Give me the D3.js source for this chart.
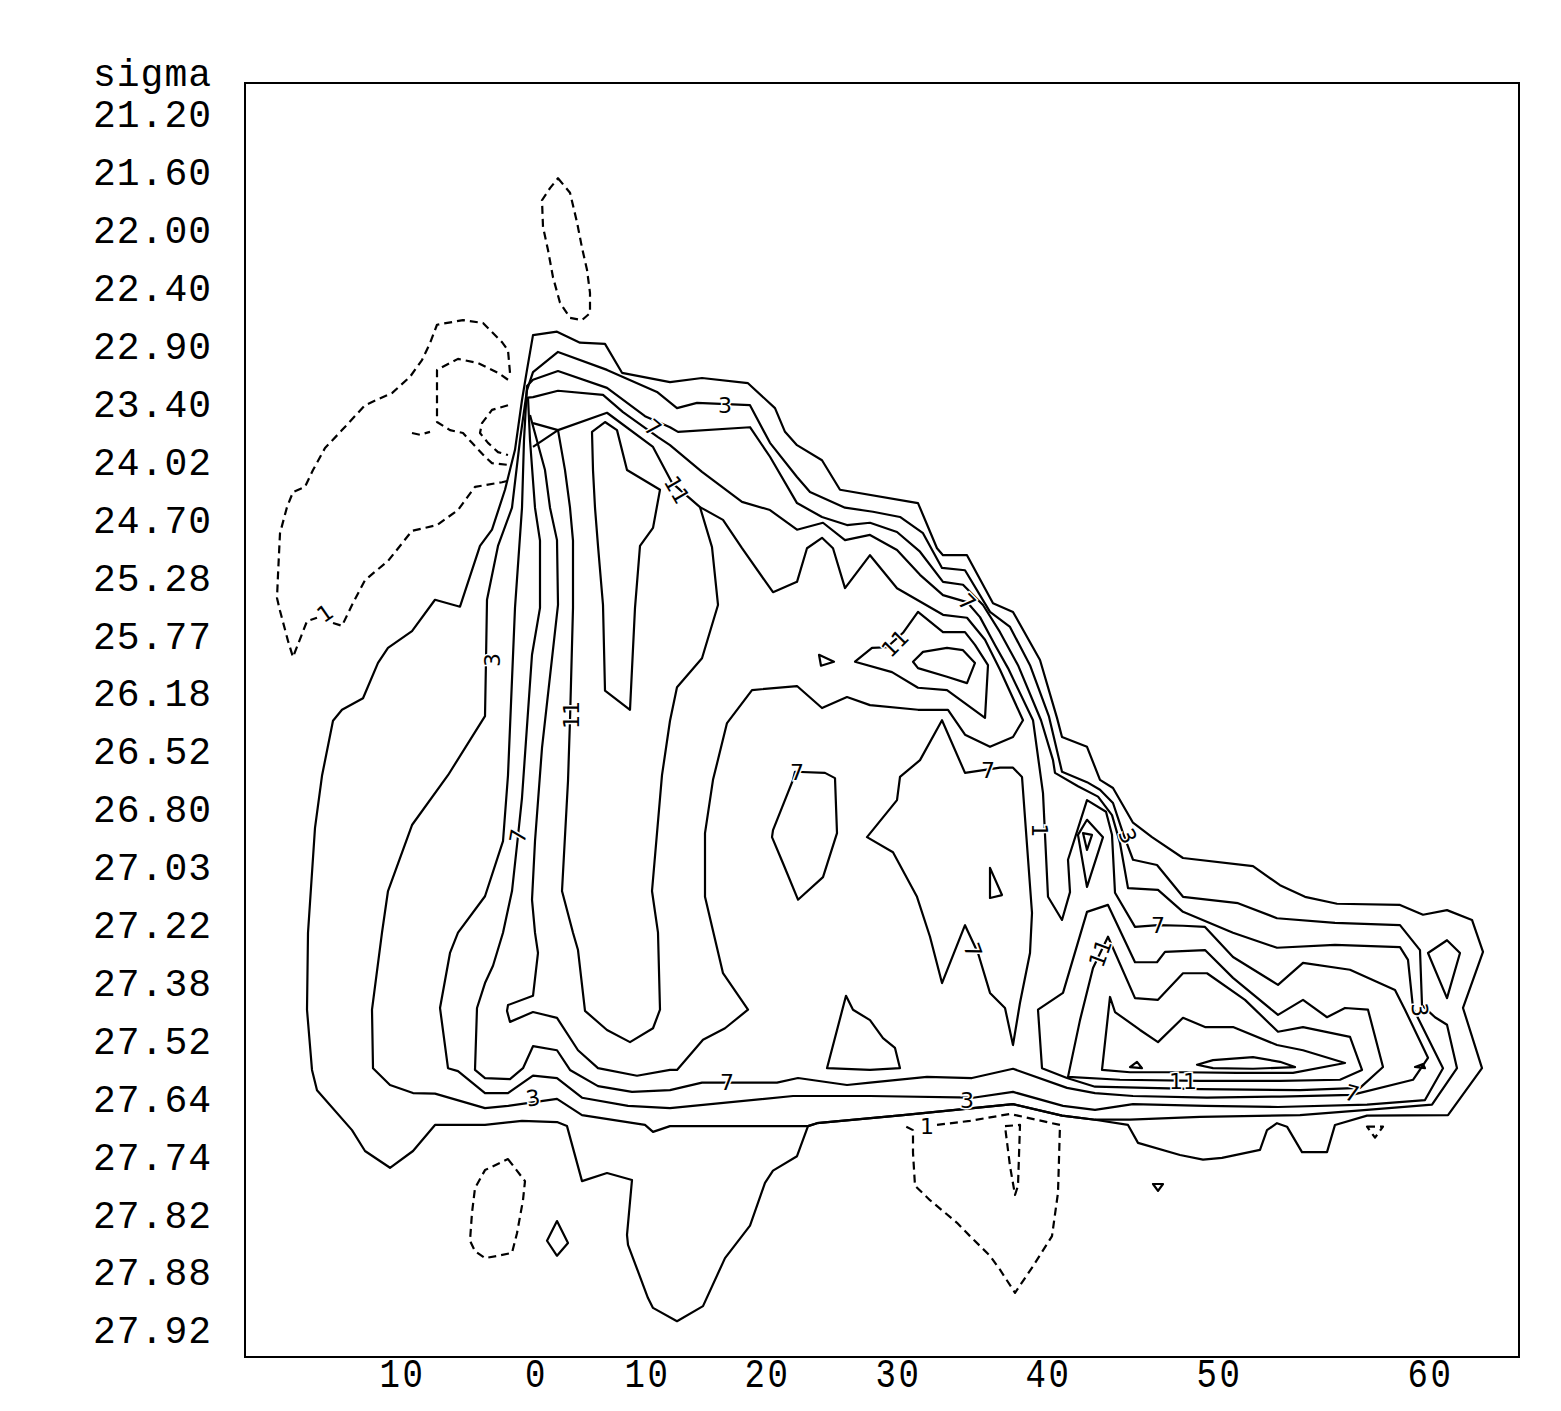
<!DOCTYPE html>
<html>
<head>
<meta charset="utf-8">
<script src="https://cdnjs.cloudflare.com/ajax/libs/d3/7.8.5/d3.min.js"></script>
<style>
body { margin: 0; background: #fff; }
svg { display: block; }
</style>
</head>
<body>
<svg id="chart"></svg>
<script>
// sigma of each layer, top to bottom (y axis)
const sigmaLevels = ["21.20","21.60","22.00","22.40","22.90","23.40","24.02","24.70","25.28","25.77","26.18",
  "26.52","26.80","27.03","27.22","27.38","27.52","27.64","27.74","27.82","27.88","27.92"];

// along-section distance of the latitude labels (x axis)
const latDist = [7.85, 14.55, 20.1, 26.1, 32.65, 40.15, 48.7, 59.25];
const latLabels = ["10", "0", "10", "20", "30", "40", "50", "60"];

// contour lines, points are [distance, layer]
const negTop = [[15.65,1.11],[16.25,1.36],[16.6,1.87],[16.85,2.31],[17.1,2.69],[17.25,3.09],[17.25,3.44],[16.85,3.56],[16.25,3.52],[15.75,3.26],[15.4,2.82],[15.15,2.35],[14.9,1.95],[14.85,1.49],[15.25,1.28]];
const negWestA = [[13.25,4.47],[13.15,4.08],[12.85,3.94],[11.9,3.61],[10.9,3.56],[9.6,3.64],[9.25,3.96],[8.85,4.25],[8.25,4.54],[7.35,4.82],[6.0,5.03],[4.85,5.46],[4.0,5.77],[3.4,6.15],[3.0,6.44],[2.4,6.53],[2.1,6.79],[1.75,7.24],[1.65,7.96],[1.6,8.36],[1.75,8.58],[2.15,9.1],[2.4,9.38],[3.1,8.76],[3.6,8.7]];
const negWestB = [[4.4,8.79],[4.85,8.84],[5.35,8.48],[6.0,8.05],[7.15,7.72],[8.35,7.2],[9.6,7.1],[10.65,6.84],[11.5,6.44],[12.85,6.36],[13.35,6.32]];
const negInner = [[13.15,4.59],[12.65,4.47],[11.65,4.3],[10.65,4.23],[9.6,4.42],[9.6,5.32],[10.25,5.46],[10.9,5.51],[11.35,5.68],[12.0,5.92],[12.35,6.03],[13.15,6.06]];
const negArc = [[13.15,5.03],[12.35,5.11],[11.85,5.34],[11.75,5.51],[12.15,5.68],[12.65,5.84],[13.15,5.89]];
const negHook = [[8.35,5.51],[8.75,5.54],[9.25,5.49]];
const negSouthWest = [[13.15,18.05],[14.0,18.43],[13.9,18.76],[13.6,19.33],[13.35,19.67],[12.65,19.72],[12.0,19.76],[11.5,19.64],[11.25,19.46],[11.35,18.98],[11.5,18.55],[12.0,18.24]];
const negSouth = [[34.6,17.46],[36.25,17.39],[38.25,17.27],[40.75,17.46],[40.65,18.63],[40.35,19.38],[39.4,19.9],[38.5,20.36],[37.75,19.96],[37.25,19.72],[36.25,19.38],[35.6,19.15],[34.25,18.76],[33.5,18.51],[33.4,17.94],[33.4,17.55],[33.0,17.48]];
const negSliver = [[38.0,17.48],[38.75,17.46],[38.65,18.51],[38.5,18.67],[38.25,18.17]];
const negTiny = [[56.1,17.49],[56.9,17.49],[56.5,17.68]];

const c1Outer = [[14.4,3.82],[15.6,3.76],[16.75,3.95],[18.0,3.97],[18.85,4.47],[21.25,4.63],[22.85,4.56],[25.15,4.65],[26.5,5.08],[27.0,5.49],[27.6,5.72],[28.85,5.98],[29.75,6.49],[33.65,6.72],[34.6,7.5],[34.9,7.62],[36.1,7.62],[37.4,8.45],[38.4,8.6],[39.75,9.43],[40.6,10.43],[40.85,10.76],[42.1,10.93],[42.75,11.5],[43.4,11.64],[44.4,12.24],[45.35,12.49],[46.9,12.85],[50.4,12.99],[51.75,13.32],[53.0,13.52],[54.6,13.64],[57.75,13.66],[58.9,13.83],[60.1,13.75],[61.35,13.92],[61.9,14.47],[60.9,15.44],[61.85,16.48],[60.15,17.29],[56.1,17.3],[54.5,17.46],[54.1,17.93],[52.85,17.93],[52.1,17.49],[51.6,17.43],[51.1,17.55],[50.75,17.89],[48.85,18.03],[47.9,18.06],[46.75,17.98],[44.65,17.77],[44.15,17.46],[42.5,17.37],[40.85,17.3],[38.4,17.1],[32.9,17.29],[28.6,17.43],[28.15,17.48],[27.6,18.0],[26.4,18.25],[26.0,18.46],[25.25,19.2],[24.0,19.76],[22.9,20.59],[21.6,20.85],[20.4,20.62],[20.15,20.45],[19.15,19.53],[19.1,19.36],[19.35,18.41],[18.1,18.29],[16.85,18.43],[16.1,17.48],[15.6,17.41],[13.85,17.39],[12.0,17.46],[9.5,17.46],[8.4,17.91],[7.25,18.2],[6.0,17.91],[5.35,17.55],[3.6,16.86],[3.35,16.51],[3.1,15.47],[3.15,14.14],[3.5,12.33],[3.85,11.43],[4.4,10.48],[4.85,10.29],[5.9,10.09],[6.65,9.48],[7.15,9.22],[8.35,8.93],[9.5,8.39],[10.75,8.51],[11.75,7.46],[12.35,7.18],[13.0,6.49],[13.5,5.8],[13.85,4.94],[14.1,4.42]];
const c3 = [[14.1,4.77],[14.4,4.46],[15.65,4.11],[18.1,4.42],[20.6,4.8],[21.6,5.08],[22.6,4.99],[25.25,5.03],[26.25,5.68],[27.6,6.27],[28.25,6.53],[30.0,6.8],[31.4,6.87],[32.75,6.96],[33.9,7.24],[34.85,7.84],[36.0,7.88],[37.25,8.6],[38.25,8.86],[39.25,9.52],[40.2,10.41],[40.85,11.36],[42.1,11.54],[42.75,11.67],[43.4,11.9],[43.9,12.42],[44.4,12.88],[45.6,12.97],[46.9,13.52],[49.65,13.63],[51.6,13.89],[54.5,13.97],[57.75,14.01],[58.75,14.44],[58.85,15.39],[59.5,15.6],[60.1,15.73],[60.6,16.48],[59.35,17.11],[56.1,17.2],[52.75,17.29],[47.75,17.32],[44.25,17.37],[42.5,17.37],[40.85,17.3],[38.4,17.1],[32.9,17.29],[28.6,17.43],[28.15,17.48],[22.85,17.48],[21.25,17.48],[20.4,17.58],[20.0,17.46],[16.85,17.29],[15.6,17.01],[13.15,17.13],[12.0,17.17],[9.5,16.92],[8.4,16.91],[7.25,16.77],[6.4,16.48],[6.35,15.47],[6.85,14.14],[7.15,13.42],[8.35,12.28],[10.15,11.42],[12.0,10.4],[12.05,9.43],[12.1,8.39],[12.65,7.46],[13.35,6.8],[13.75,5.63]];
const c5 = [[14.1,4.7],[14.4,4.59],[15.65,4.44],[18.1,4.73],[20.0,5.22],[21.25,5.41],[21.65,5.49],[25.25,5.41],[26.25,5.92],[27.6,6.72],[28.85,6.96],[30.1,7.1],[31.25,7.06],[32.6,7.22],[33.75,7.56],[34.9,8.08],[35.9,8.13],[36.9,8.48],[37.75,8.95],[38.65,9.52],[39.8,10.47],[40.4,11.16],[40.5,11.38],[41.65,11.61],[42.65,11.79],[43.35,12.11],[43.75,12.59],[44.15,13.37],[45.65,13.4],[46.9,13.78],[49.4,14.14],[51.6,14.4],[54.5,14.35],[57.75,14.39],[58.15,14.61],[58.4,15.44],[59.9,16.48],[59.0,17.03],[56.1,17.11],[51.65,17.15],[48.0,17.13],[44.4,17.1],[42.5,17.2],[40.9,17.13],[38.4,16.89],[36.4,16.99],[31.25,16.96],[27.4,16.96],[21.25,17.17],[19.15,17.13],[16.85,16.99],[15.6,16.65],[14.4,16.61],[13.15,16.91],[12.0,16.91],[10.65,16.53],[10.15,16.48],[9.75,15.44],[10.25,14.49],[10.65,14.14],[12.0,13.51],[12.9,12.56],[13.15,11.42],[13.5,8.53],[13.85,6.8],[13.95,5.63]];
const c7 = [[14.15,4.9],[14.4,4.89],[15.65,4.78],[17.9,4.85],[18.9,5.15],[20.65,5.58],[21.25,5.72],[22.85,6.18],[24.85,6.7],[26.25,6.84],[27.6,7.18],[28.9,7.06],[30.0,7.36],[31.25,7.27],[32.6,7.53],[33.75,7.96],[34.9,8.31],[36.1,8.43],[36.75,8.69],[37.5,9.17],[38.15,9.57],[39.4,10.47],[39.9,11.73],[40.15,13.52],[40.85,13.92],[41.25,13.44],[41.15,12.88],[42.1,11.85],[43.05,12.05],[43.35,12.45],[43.5,13.45],[44.5,14.04],[45.65,14.01],[46.9,14.02],[48.0,14.04],[49.4,14.56],[51.65,15.04],[52.9,14.66],[55.25,14.78],[57.5,15.13],[58.0,15.47],[59.15,16.3],[58.4,16.68],[55.35,16.94],[51.75,16.97],[48.1,16.99],[44.4,16.96],[42.5,16.91],[41.1,16.82],[38.4,16.49],[36.35,16.65],[34.1,16.63],[31.25,16.73],[30.1,16.77],[27.65,16.65],[26.6,16.73],[22.85,16.73],[21.25,16.86],[19.35,16.89],[17.65,16.79],[16.25,16.51],[15.6,16.17],[14.4,16.1],[13.9,16.48],[13.25,16.67],[12.0,16.65],[11.5,16.51],[11.6,15.44],[12.0,15.01],[12.4,14.71],[12.9,14.14],[13.35,13.42],[13.65,12.47],[13.85,11.81],[14.35,9.34],[14.75,8.53],[14.75,7.37],[14.5,6.8],[14.25,5.63]];
const c9West = [[14.25,5.2],[15.0,6.15],[15.25,6.8],[15.6,7.36],[15.65,8.48],[14.85,10.95],[14.5,12.56],[14.35,13.57],[14.5,14.14],[14.65,14.49],[14.4,15.23],[13.15,15.39],[13.1,15.49],[13.25,15.68],[14.4,15.51],[15.6,15.61],[16.65,16.17],[17.65,16.48],[19.6,16.61],[21.25,16.51],[21.6,16.51],[22.9,15.99],[24.0,15.79],[25.15,15.47],[23.9,14.84],[23.0,13.52],[23.0,12.42],[23.4,11.5],[24.1,10.52],[25.35,9.95],[27.6,9.88],[28.85,10.26],[30.1,10.07],[31.25,10.21],[33.65,10.29],[35.15,10.29],[36.0,10.72],[37.25,10.93],[38.4,10.76],[38.9,10.47],[37.75,9.6],[37.0,9.08],[36.1,8.7],[34.9,8.65],[32.6,8.19],[31.25,7.62],[30.0,8.19],[29.4,7.5],[28.85,7.32],[28.1,7.5],[27.6,8.08],[26.4,8.26],[24.85,7.5],[23.9,7.01],[22.75,6.79]];
const c9East = [[43.15,13.66],[42.1,13.78],[40.9,15.18],[39.65,15.47],[39.85,16.48],[41.1,16.65],[42.5,16.8],[47.75,16.84],[52.75,16.86],[55.75,16.82],[56.9,16.46],[56.15,15.47],[55.0,15.44],[54.1,15.6],[52.9,15.3],[51.65,15.56],[49.4,14.92],[48.0,14.44],[46.0,14.47],[45.6,14.65],[44.5,14.65]];
const c11West = [[15.65,5.46],[18.1,5.16],[20.4,5.75],[21.35,6.37],[22.75,6.79],[23.35,7.48],[23.65,8.48],[22.85,9.4],[21.6,9.9],[21.25,10.48],[20.85,11.42],[20.35,13.42],[20.65,14.14],[20.75,15.47],[20.4,15.79],[19.25,16.03],[18.1,15.82],[17.0,15.49],[16.65,14.44],[16.4,14.14],[15.85,13.42],[16.15,11.52],[16.25,10.47],[16.4,8.53],[16.4,7.37],[16.25,6.8],[16.0,6.15]];
const c11Mid = [[30.5,9.46],[31.35,9.22],[32.1,9.21],[32.9,8.96],[33.65,8.6],[34.9,8.95],[36.0,8.95],[36.5,9.17],[37.15,9.52],[37.0,10.43],[35.1,9.95],[33.65,9.91],[32.35,9.64]];
const c11East = [[43.15,14.21],[44.5,15.27],[45.65,15.3],[46.9,14.84],[48.1,14.84],[50.0,15.3],[51.65,15.85],[52.9,15.77],[55.25,15.94],[55.85,16.51],[54.75,16.68],[51.75,16.7],[47.75,16.7],[43.75,16.68],[41.15,16.63],[41.75,15.65],[42.4,14.75]];
const c13West = [[17.35,5.49],[18.0,5.32],[18.6,5.46],[19.1,6.15],[20.75,6.49],[20.4,7.15],[19.75,7.46],[19.5,8.53],[19.25,10.29],[18.0,9.96],[17.9,8.48],[17.65,7.46],[17.5,6.8],[17.4,6.15]];
const c13Mid = [[33.4,9.46],[33.9,9.29],[35.1,9.22],[35.9,9.26],[36.5,9.48],[36.1,9.83],[35.1,9.72],[33.65,9.57]];
const c13East = [[43.25,15.25],[43.5,15.51],[44.75,15.82],[45.65,16.03],[46.9,15.61],[48.0,15.77],[49.4,15.77],[51.6,16.08],[52.9,16.17],[55.0,16.39],[52.4,16.56],[49.6,16.56],[46.9,16.55],[44.25,16.55],[42.85,16.51]];
const wedge = [[14.4,5.34],[15.65,5.46],[14.4,5.75]];
const star7 = [[34.85,10.47],[36.0,11.38],[37.75,11.29],[38.4,11.29],[38.85,11.45],[39.35,13.8],[39.25,14.49],[38.75,15.35],[38.4,16.08],[38.0,15.44],[37.25,15.18],[36.65,14.49],[36.0,14.01],[34.85,15.01],[34.25,14.21],[33.6,13.52],[32.4,12.75],[31.1,12.49],[32.6,11.85],[32.75,11.45],[33.75,11.16]];
const west7 = [[27.5,11.36],[29.0,11.38],[29.5,11.47],[29.6,12.42],[28.9,13.18],[27.65,13.57],[26.9,12.94],[26.35,12.49],[26.4,12.37],[27.4,11.5]];
const lens = [[47.6,16.42],[48.4,16.34],[50.4,16.29],[51.75,16.37],[52.5,16.46],[50.4,16.49],[48.4,16.48]];
const southTri = [[30.05,15.23],[30.4,15.47],[31.25,15.65],[31.9,15.96],[32.5,16.13],[32.75,16.48],[31.25,16.51],[29.1,16.48]];
const starTri = [[37.25,13.02],[37.85,13.49],[37.25,13.54]];
const chanTri = [[41.65,12.45],[42.1,12.19],[42.9,12.49],[42.1,13.35]];
const chanTiny = [[41.9,12.42],[42.35,12.45],[42.1,12.71]];
const eastLoop = [[59.15,14.49],[60.1,14.27],[60.75,14.49],[60.1,15.27]];
const diamond = [[15.6,19.12],[16.15,19.5],[15.6,19.72],[15.1,19.46]];
const nub = [[28.7,9.34],[29.45,9.46],[28.8,9.53]];
const smallTriW = [[44.25,16.46],[44.6,16.37],[44.85,16.48]];
const smallTriE = [[58.5,16.46],[58.9,16.41],[59.0,16.48]];
const southDot = [[45.4,18.48],[45.9,18.48],[45.65,18.6]];

// [distance, layer, text, angle]
const contourLabels = [
  [24.0,5.03,"3",0], [20.4,5.42,"7",40], [21.6,6.49,"11",60], [12.35,9.43,"3",-90],
  [16.3,10.38,"11",-90], [13.65,12.47,"7",-80], [14.4,16.99,"3",-10], [24.1,16.72,"7",0],
  [36.1,17.03,"3",0], [34.1,17.48,"1",0], [4.0,8.62,"1",-35], [32.5,9.14,"11",-45],
  [27.6,11.36,"7",0], [37.15,11.33,"7",0], [36.4,14.44,"7",70], [36.1,8.43,"7",45],
  [44.15,12.47,"3",65], [39.75,12.37,"1",90], [42.75,14.49,"11",-70], [45.65,14.01,"7",0],
  [46.9,16.70,"11",0], [55.35,16.91,"7",15], [58.75,15.47,"3",85]
];

const contourLines = [
  {level: -1, closed: true, pts: negTop},
  {level: -1, closed: false, pts: negWestA},
  {level: -1, closed: false, pts: negWestB},
  {level: -1, closed: false, pts: negInner},
  {level: -1, closed: false, pts: negArc},
  {level: -1, closed: false, pts: negHook},
  {level: -1, closed: true, pts: negSouthWest},
  {level: -1, closed: false, pts: negSouth},
  {level: -1, closed: true, pts: negSliver},
  {level: -1, closed: true, pts: negTiny},
  {level: 1, closed: true, pts: c1Outer},
  {level: 3, closed: true, pts: c3},
  {level: 5, closed: true, pts: c5},
  {level: 7, closed: true, pts: c7},
  {level: 9, closed: false, pts: c9West},
  {level: 9, closed: true, pts: c9East},
  {level: 11, closed: true, pts: c11West},
  {level: 11, closed: true, pts: c11Mid},
  {level: 11, closed: true, pts: c11East},
  {level: 13, closed: true, pts: c13West},
  {level: 13, closed: true, pts: c13Mid},
  {level: 13, closed: true, pts: c13East},
  {level: 9, closed: false, pts: wedge},
  {level: 7, closed: true, pts: star7},
  {level: 7, closed: true, pts: west7},
  {level: 15, closed: true, pts: lens},
  {level: 9, closed: true, pts: southTri},
  {level: 5, closed: true, pts: starTri},
  {level: 11, closed: true, pts: chanTri},
  {level: 13, closed: true, pts: chanTiny},
  {level: 1, closed: true, pts: eastLoop},
  {level: 1, closed: true, pts: diamond},
  {level: 9, closed: true, pts: nub},
  {level: 15, closed: true, pts: smallTriW},
  {level: 9, closed: true, pts: smallTriE},
  {level: 1, closed: true, pts: southDot}
];

const width = 1561, height = 1411;
const plot = {left: 245, top: 83, right: 1519, bottom: 1357};

const svg = d3.select("#chart").attr("width", width).attr("height", height);

const x = d3.scaleLinear().domain([0, 63.7]).range([plot.left, plot.right]);
const y = d3.scaleLinear().domain([-0.535, 21.468]).range([plot.top, plot.bottom]);

svg.append("defs").append("clipPath").attr("id", "clip")
  .append("rect")
  .attr("x", plot.left).attr("y", plot.top)
  .attr("width", plot.right - plot.left).attr("height", plot.bottom - plot.top);

const lineOpen = d3.line().x(d => x(d[0])).y(d => y(d[1]));
const lineClosed = d3.line().x(d => x(d[0])).y(d => y(d[1])).curve(d3.curveLinearClosed);

const lines = svg.append("g").attr("clip-path", "url(#clip)");
lines.selectAll("path")
  .data(contourLines)
  .join("path")
  .attr("d", d => (d.closed ? lineClosed : lineOpen)(d.pts))
  .attr("fill", "none")
  .attr("stroke", "#000")
  .attr("stroke-width", 2.2)
  .attr("stroke-linejoin", "round")
  .attr("stroke-dasharray", d => d.level < 0 ? "8,5" : null);

lines.selectAll("text")
  .data(contourLabels)
  .join("text")
  .attr("transform", d => `translate(${x(d[0])},${y(d[1])}) rotate(${d[3]})`)
  .attr("text-anchor", "middle")
  .attr("dy", "0.36em")
  .attr("font-family", "DejaVu Sans, sans-serif")
  .attr("font-size", 22)
  .attr("fill", "#000")
  .attr("stroke", "#fff")
  .attr("stroke-width", 3)
  .attr("paint-order", "stroke")
  .text(d => d[2]);

// frame
svg.append("rect")
  .attr("x", plot.left).attr("y", plot.top)
  .attr("width", plot.right - plot.left).attr("height", plot.bottom - plot.top)
  .attr("fill", "none").attr("stroke", "#000").attr("stroke-width", 2);

// y axis: sigma per layer
const yAxis = d3.axisLeft(y)
  .tickValues(d3.range(sigmaLevels.length))
  .tickFormat(i => sigmaLevels[i])
  .tickSize(0).tickPadding(0);

svg.append("g")
  .attr("transform", "translate(212,0)")
  .call(yAxis)
  .call(g => g.select(".domain").remove())
  .call(g => g.selectAll("text")
    .attr("dy", "0.34em")
    .attr("font-family", "Liberation Mono, monospace")
    .attr("font-size", 38)
    .attr("letter-spacing", 1)
    .attr("fill", "#000"));

svg.append("text")
  .attr("x", 212).attr("y", 86)
  .attr("text-anchor", "end")
  .attr("font-family", "Liberation Mono, monospace")
  .attr("font-size", 38)
  .attr("letter-spacing", 1)
  .text("sigma");

// x axis: latitude
const xAxis = d3.axisBottom(x)
  .tickValues(latDist)
  .tickFormat((d, i) => latLabels[i])
  .tickSize(0).tickPadding(0);

svg.append("g")
  .attr("transform", `translate(0,${plot.bottom})`)
  .call(xAxis)
  .call(g => g.select(".domain").remove())
  .call(g => g.selectAll("text")
    .attr("y", null).attr("dy", null)
    .attr("transform", "translate(0,30) scale(0.85,1)")
    .attr("font-family", "Liberation Mono, monospace")
    .attr("font-size", 40)
    .attr("letter-spacing", 3)
    .attr("fill", "#000"));
</script>
</body>
</html>
